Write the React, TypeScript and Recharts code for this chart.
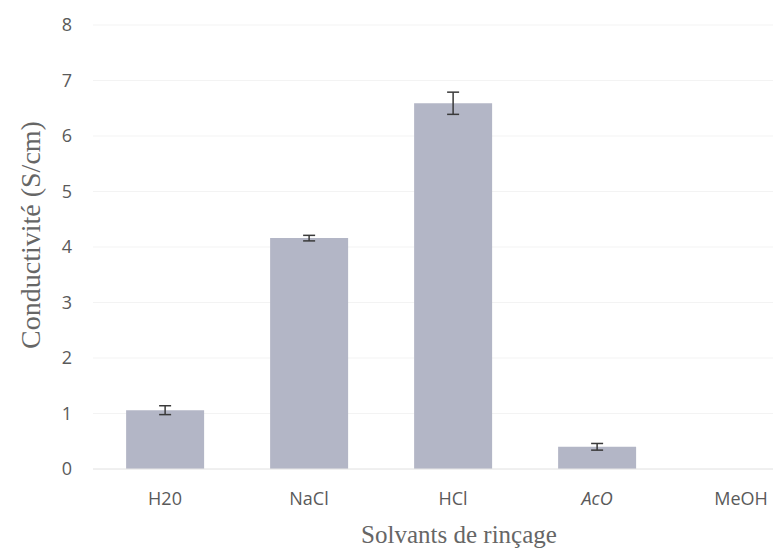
import React from "react";
import {
  BarChart,
  Bar,
  XAxis,
  YAxis,
  CartesianGrid,
  ErrorBar,
  Label,
} from "recharts";

const SOLVANTS = ["H20", "NaCl", "HCl", "AcO", "MeOH"];
const CONDUCTIVITE = [1.06, 4.16, 6.59, 0.4, null];
const ERREURS = [0.08, 0.05, 0.2, 0.06, null];
const Y_TICKS = [0, 1, 2, 3, 4, 5, 6, 7, 8];

const chartData = SOLVANTS.map((s, i) => ({
  solvant: s,
  valeur: CONDUCTIVITE[i],
  erreur: ERREURS[i],
}));

const TICK_FONT = "'Open Sans', Lato, sans-serif";
const TITLE_FONT = "'Liberation Serif', 'DejaVu Serif', serif";

function XTick(props: any) {
  const { x, y, payload } = props;
  return (
    <text
      x={x}
      y={y}
      dominantBaseline="central"
      textAnchor="middle"
      fill="#5a5a5a"
      fontSize={18}
      fontFamily={TICK_FONT}
      fontStyle={payload.value === "AcO" ? "italic" : "normal"}
    >
      {payload.value}
    </text>
  );
}

// titre vertical, un peu au-dessus du centre comme dans l'original
function YTitle(props: any) {
  const vb = props.viewBox;
  const cy = vb.y + vb.height / 2 - 12;
  return (
    <text
      x={40}
      y={cy}
      transform={`rotate(-90, 40, ${cy})`}
      textAnchor="middle"
      fill="#666"
      fontSize={28}
      fontFamily={TITLE_FONT}
    >
      Conductivité (S/cm)
    </text>
  );
}

export default function App() {
  return (
    <div
      style={{
        position: "fixed",
        left: 0,
        top: 0,
        width: 773,
        height: 551,
        overflow: "hidden",
        background: "#fff",
      }}
    >
      <BarChart
        width={830}
        height={551}
        data={chartData}
        margin={{ top: 25, right: 17, bottom: 0, left: 0 }}
        barCategoryGap="23%"
      >
        <CartesianGrid vertical={false} stroke="#f3f3f3" />
        <XAxis
          dataKey="solvant"
          height={82}
          tickLine={false}
          axisLine={{ stroke: "#e6e6e6" }}
          tickSize={0}
          tickMargin={29}
          tick={<XTick />}
          interval={0}
        >
          <Label
            value="Solvants de rinçage"
            position="insideBottom"
            offset={8}
            dx={6}
            style={{ fontFamily: TITLE_FONT, fontSize: 25, fill: "#666" }}
          />
        </XAxis>
        <YAxis
          width={93}
          domain={[0, 8]}
          ticks={Y_TICKS}
          interval={0}
          tickLine={false}
          axisLine={false}
          tickSize={0}
          tickMargin={21}
          tick={{ fill: "#5a5a5a", fontSize: 18, fontFamily: TICK_FONT }}
        >
          <Label content={<YTitle />} />
        </YAxis>
        <Bar dataKey="valeur" fill="#b3b6c6" isAnimationActive={false}>
          <ErrorBar
            dataKey="erreur"
            width={6}
            stroke="#3a3a3a"
            strokeWidth={1.5}
            direction="y"
          />
        </Bar>
      </BarChart>
    </div>
  );
}
